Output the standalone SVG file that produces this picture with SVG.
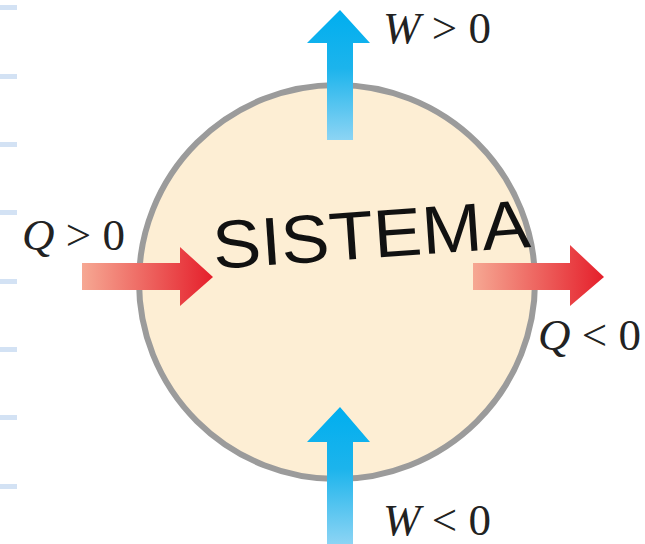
<svg xmlns="http://www.w3.org/2000/svg" width="645" height="544" viewBox="0 0 645 544">
<defs>
<linearGradient id="gUp" x1="0" y1="1" x2="0" y2="0">
<stop offset="0" stop-color="#8CD4F4"/>
<stop offset="0.55" stop-color="#1CB4EC"/>
<stop offset="1" stop-color="#00AEEF"/>
</linearGradient>
<linearGradient id="gRight" x1="0" y1="0" x2="1" y2="0">
<stop offset="0" stop-color="#F6A893"/>
<stop offset="1" stop-color="#E51F2B"/>
</linearGradient>
<style>
.tick{fill:#D3E2F4}
.lbl{font-family:"Liberation Serif","Times New Roman",serif;font-size:45px;fill:#222}
.it{font-style:italic}
</style>
</defs>
<rect width="645" height="544" fill="#FFFFFF"/>
<g id="margin">
<rect class="tick" x="0" y="5" width="17" height="5"/>
<rect class="tick" x="0" y="74" width="17" height="5"/>
<rect class="tick" x="0" y="142" width="17" height="5"/>
<rect class="tick" x="0" y="210" width="17" height="5"/>
<rect class="tick" x="0" y="279" width="17" height="5"/>
<rect class="tick" x="0" y="347" width="17" height="5"/>
<rect class="tick" x="0" y="415" width="17" height="5"/>
<rect class="tick" x="0" y="484" width="17" height="5"/>
</g>
<g id="sistema">
<ellipse cx="337" cy="282" rx="198" ry="197" fill="#FDEED4" stroke="#9B9B9B" stroke-width="6"/>
<text x="212" y="258" font-family="'Liberation Sans',Arial,sans-serif" font-size="68" fill="#111" textLength="318" lengthAdjust="spacingAndGlyphs" transform="rotate(-4 370 230)">SISTEMA</text>
</g>
<g id="connectors">
<polygon id="w-out" points="327,140 327,43 307,43 340,10 370,43 353,43 353,140" fill="url(#gUp)"/>
<polygon id="w-in" points="327,544 327,442 307,442 340,407 370,442 353,442 353,544" fill="url(#gUp)"/>
<polygon id="q-in" points="82,263 180,263 180,247 213,277 180,306 180,290 82,290" fill="url(#gRight)"/>
<polygon id="q-out" points="473,263 570,263 570,245 604,277 570,306 570,290 473,290" fill="url(#gRight)"/>
</g>
<g id="labels">
<text class="lbl" x="383" y="43"><tspan class="it">W</tspan> &gt; 0</text>
<text class="lbl" x="383" y="535"><tspan class="it">W</tspan> &lt; 0</text>
<text class="lbl" x="22" y="250"><tspan class="it">Q</tspan> &gt; 0</text>
<text class="lbl" x="538" y="350"><tspan class="it">Q</tspan> &lt; 0</text>
</g>
</svg>
